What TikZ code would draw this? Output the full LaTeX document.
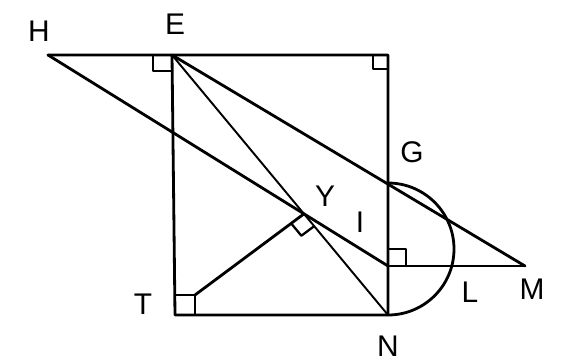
\documentclass[tikz,border=0pt]{standalone}
\usepackage{fontspec}
\setsansfont{Liberation Sans}
\usetikzlibrary{calc}
\tikzset{
  gm line/.style={line width=1.6pt, line cap=round, line join=round},
  gm thin/.style={line width=1.1pt, line cap=round},
  gm mark/.style={line width=1.3pt, line join=round},
  gm label/.style={font=\sffamily\fontsize{17}{20}\selectfont, inner sep=0pt}
}
\begin{document}
\begin{tikzpicture}[x=0.02cm, y=-0.02cm]
  \useasboundingbox (0,0) rectangle (561,362);
  % points (pixel grid, y downwards)
  \coordinate (H) at (48,55);
  \coordinate (E) at (172,55);
  \coordinate (R) at (388,55);
  \coordinate (T) at (175,315);
  \coordinate (N) at (388,315);
  \coordinate (I) at (388,266);
  \coordinate (M) at (525,266);
  \coordinate (G) at (intersection of E--M and R--N);
  \coordinate (Y) at (intersection of H--I and E--N);
  \coordinate (Tc) at ($(T)+(20,-20)$);

  \draw[gm line] (H) -- (R) -- (N) -- (T) -- (E);
  \draw[gm line] (H) -- (I);
  \draw[gm line] (E) -- (M);
  \draw[gm thin] (E) -- (N);
  \draw[gm thin] (I) -- (M);
  \draw[gm line] (Tc) -- (Y);
  \draw[gm line] (N) arc[start angle=90, end angle=-90, radius=66];

  % right angles
  \draw[gm mark] ($(E)+(-19,0)$) -- ++(0,16) -- ++(19,0);
  \draw[gm mark] ($(R)+(-15,0)$) -- ++(0,14) -- ++(15,0);
  \draw[gm mark] ($(I)+(0,-17)$) -- ++(18,0) -- ++(0,17);
  \draw[gm mark] ($(T)+(0,-20)$) -- (Tc) -- ++(0,20);
  \draw[gm mark] ($(Y)!0.32cm!(Tc)$) -- ($(Y)!0.32cm!(Tc) + (Y)!0.32cm!(N) - (Y)$)
    -- ($(Y)!0.32cm!(N)$);

  \node[gm label] (lH) at (39,31) {H};
  \node[gm label] (lE) at (175,24) {E};
  \node[gm label] (lG) at (412,152) {G};
  \node[gm label] (lY) at (325,196) {Y};
  \node[gm label] (lI) at (360,222) {I};
  \node[gm label] (lT) at (143,304) {T};
  \node[gm label] (lN) at (388,346) {N};
  \node[gm label] (lL) at (470,292) {L};
  \node[gm label] (lM) at (532,289) {M};
\end{tikzpicture}
\end{document}
